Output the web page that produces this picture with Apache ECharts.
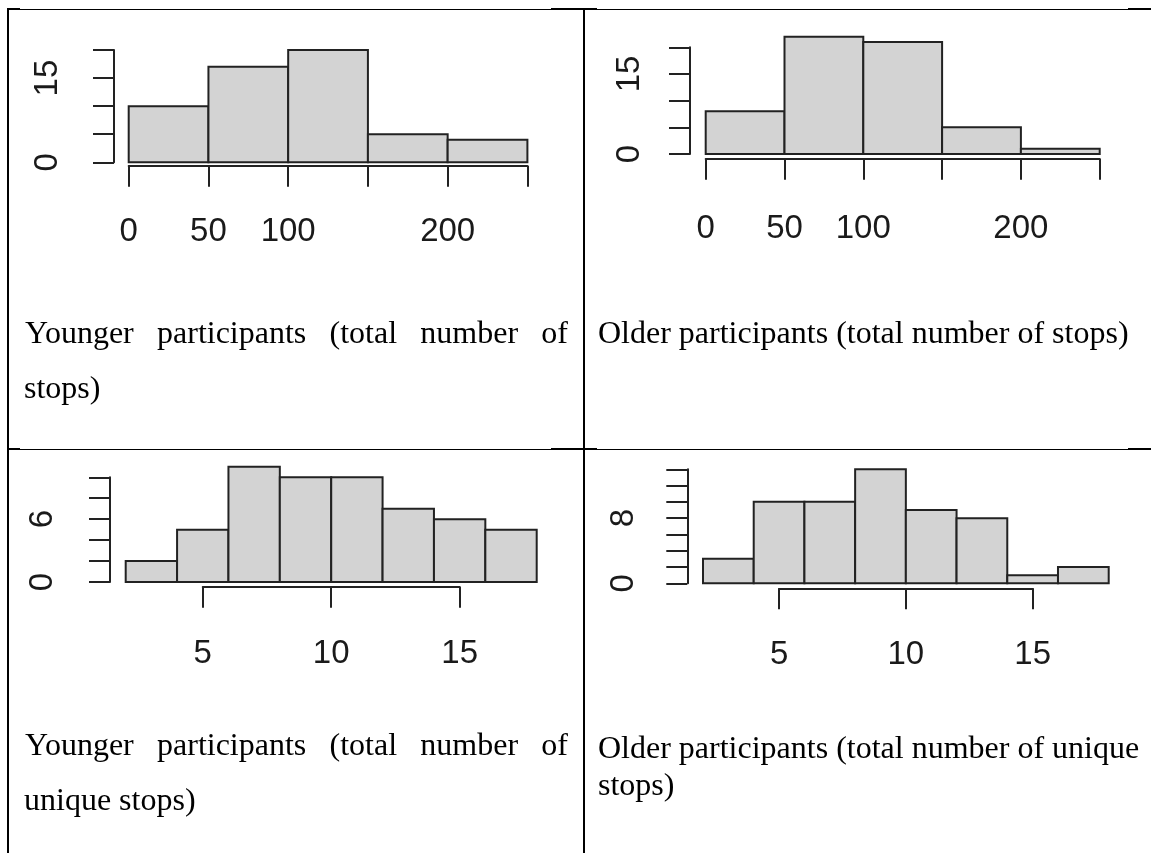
<!DOCTYPE html>
<html><head><meta charset="utf-8">
<script src="https://cdn.jsdelivr.net/npm/echarts@6/dist/echarts.min.js"></script>
<style>
html,body{margin:0;padding:0;background:#fff;}
#wrap{position:relative;width:1151px;height:853px;overflow:hidden;background:#fff;}
#chart{position:absolute;left:0;top:0;width:1151px;height:853px;}
.ln{position:absolute;background:#000;}
.cap{position:absolute;font-family:"Liberation Serif","Times New Roman",serif;font-size:32px;line-height:40px;color:#000;white-space:nowrap;}
.just{text-align:justify;text-align-last:justify;white-space:normal;}
</style></head><body>
<div id="wrap"><div id="chart"></div></div>
<script>
// ---------------- data ----------------
const totalBinEdges = [0, 50, 100, 150, 200, 250];
const youngerTotalCounts = [10, 17, 20, 5, 4];
const olderTotalCounts = [8, 22, 21, 5, 1];
const uniqueBinEdges = [2, 4, 6, 8, 10, 12, 14, 16, 18];
const youngerUniqueCounts = [2, 5, 11, 10, 10, 7, 6, 5];
const olderUniqueCounts = [3, 10, 10, 14, 9, 8, 1, 2];

const totalXTicks = [0, 50, 100, 150, 200, 250];
const totalXLabels = [0, 50, 100, 200];
const uniqueXTicks = [5, 10, 15];
const uniqueXLabels = [5, 10, 15];
const totalYTicks = [0, 5, 10, 15, 20];
const totalYLabels = [0, 15];
const youngerUniqueYTicks = [0, 2, 4, 6, 8, 10];
const youngerUniqueYLabels = [0, 6];
const olderUniqueYTicks = [0, 2, 4, 6, 8, 10, 12, 14];
const olderUniqueYLabels = [0, 8];

const captionYoungerTotal = ["Younger participants (total number of", "stops)"];
const captionOlderTotal = ["Older participants (total number of stops)"];
const captionYoungerUnique = ["Younger participants (total number of", "unique stops)"];
const captionOlderUnique = ["Older participants (total number of unique", "stops)"];

// ---------------- layout ----------------
const panels = [
  {edges: totalBinEdges, counts: youngerTotalCounts, xTicks: totalXTicks, xLabels: totalXLabels,
   yTicks: totalYTicks, yLabels: totalYLabels,
   box: {left: 128.7, top: 50, width: 398.7, height: 112.3}, xOff: 3.5, yOff: 14.7, xMargin: 50, yMargin: 50},
  {edges: totalBinEdges, counts: olderTotalCounts, xTicks: totalXTicks, xLabels: totalXLabels,
   yTicks: totalYTicks, yLabels: totalYLabels,
   box: {left: 705.7, top: 47.3, width: 394, height: 106.7}, xOff: 4.7, yOff: 15.7, xMargin: 54, yMargin: 44},
  {edges: uniqueBinEdges, counts: youngerUniqueCounts, xTicks: uniqueXTicks, xLabels: uniqueXLabels,
   yTicks: youngerUniqueYTicks, yLabels: youngerUniqueYLabels,
   box: {left: 125.7, top: 477.3, width: 411, height: 104.7}, xOff: 4.7, yOff: 15.7, xMargin: 51, yMargin: 51},
  {edges: uniqueBinEdges, counts: olderUniqueCounts, xTicks: uniqueXTicks, xLabels: uniqueXLabels,
   yTicks: olderUniqueYTicks, yLabels: olderUniqueYLabels,
   box: {left: 703, top: 469.3, width: 405.7, height: 114}, xOff: 5, yOff: 15.7, xMargin: 50, yMargin: 47}
];

const INK = '#222';
const LABEL_FONT = {fontFamily: '"Liberation Sans", Arial, sans-serif', fontSize: 33, color: '#1a1a1a'};

const grids = [], xAxes = [], yAxes = [], series = [];

function axisStyle(show) {
  return {
    axisLine: {show: show, onZero: false, lineStyle: {color: INK, width: 2}},
    axisTick: {show: show, length: 21, inside: false, lineStyle: {color: INK, width: 2}},
    splitLine: {show: false}
  };
}

panels.forEach(function (p) {
  const b = p.box;
  const eMin = p.edges[0], eMax = p.edges[p.edges.length - 1];
  const tMin = p.xTicks[0], tMax = p.xTicks[p.xTicks.length - 1];
  grids.push({left: b.left, top: b.top, width: b.width, height: b.height, containLabel: false, outerBoundsMode: 'none'});
  const g = grids.length - 1;
  const sameRange = (tMin === eMin && tMax === eMax);
  const xLabelCfg = Object.assign({show: true, margin: p.xMargin,
    formatter: function (v) { return p.xLabels.indexOf(v) >= 0 ? String(v) : ''; }}, LABEL_FONT);
  if (sameRange) {
    xAxes.push(Object.assign({type: 'value', gridIndex: g, position: 'bottom', offset: p.xOff,
      min: tMin, max: tMax, interval: p.xTicks[1] - p.xTicks[0], axisLabel: xLabelCfg}, axisStyle(true)));
  } else {
    xAxes.push({type: 'value', gridIndex: g, show: false, min: eMin, max: eMax});
  }
  const xBars = xAxes.length - 1;
  yAxes.push(Object.assign({type: 'value', gridIndex: g, position: 'left', offset: p.yOff,
    min: p.yTicks[0], max: p.yTicks[p.yTicks.length - 1], interval: p.yTicks[1] - p.yTicks[0],
    axisLabel: Object.assign({show: true, rotate: 90, margin: p.yMargin,
      formatter: function (v) { return p.yLabels.indexOf(v) >= 0 ? String(v) : ''; }}, LABEL_FONT)},
    axisStyle(true)));
  const yBars = yAxes.length - 1;

  if (!sameRange) {
    const scale = b.width / (eMax - eMin);
    grids.push({left: b.left + (tMin - eMin) * scale, top: b.top, width: (tMax - tMin) * scale,
      height: b.height, containLabel: false, outerBoundsMode: 'none'});
    const ga = grids.length - 1;
    xAxes.push(Object.assign({type: 'value', gridIndex: ga, position: 'bottom', offset: p.xOff,
      min: tMin, max: tMax, interval: p.xTicks[1] - p.xTicks[0], axisLabel: xLabelCfg}, axisStyle(true)));
    yAxes.push({type: 'value', gridIndex: ga, show: false, min: 0, max: 1});
  }

  series.push({
    type: 'custom', xAxisIndex: xBars, yAxisIndex: yBars, clip: false, silent: true,
    data: p.counts.map(function (c, i) { return [p.edges[i], p.edges[i + 1], c]; }),
    encode: {x: [0, 1], y: [2]},
    renderItem: function (params, api) {
      const p0 = api.coord([api.value(0), api.value(2)]);
      const p1 = api.coord([api.value(1), 0]);
      return {type: 'rect', shape: {x: p0[0], y: p0[1], width: p1[0] - p0[0], height: p1[1] - p0[1]},
        style: {fill: '#d3d3d3', stroke: INK, lineWidth: 2}};
    }
  });
});

const chart = echarts.init(document.getElementById('chart'), null, {renderer: 'canvas'});
chart.setOption({animation: false, backgroundColor: '#fff', grid: grids, xAxis: xAxes, yAxis: yAxes, series: series});

// ---------------- table borders & captions ----------------
const wrap = document.getElementById('wrap');
function line(l, t, w, h) {
  const d = document.createElement('div'); d.className = 'ln';
  d.style.left = l + 'px'; d.style.top = t + 'px'; d.style.width = w + 'px'; d.style.height = h + 'px';
  wrap.appendChild(d);
}
[9, 449].forEach(function (y) {
  line(7, y, 1144, 1);
  line(7, y - 1, 13, 2);
  line(551, y - 1, 46, 2);
  line(1128, y - 1, 23, 2);
});
line(7, 8, 2, 845);
line(583, 8, 2, 845);

function caption(text, left, top, justifyWidth) {
  const d = document.createElement('div');
  d.className = 'cap' + (justifyWidth ? ' just' : '');
  d.style.left = left + 'px'; d.style.top = top + 'px';
  if (justifyWidth) d.style.width = justifyWidth + 'px';
  d.textContent = text;
  wrap.appendChild(d);
}
caption(captionYoungerTotal[0], 25, 312, 543);
caption(captionYoungerTotal[1], 24, 367);
caption(captionOlderTotal[0], 598, 312);
caption(captionYoungerUnique[0], 25, 723.5, 543);
caption(captionYoungerUnique[1], 24, 778.5);
caption(captionOlderUnique[0], 598, 727);
caption(captionOlderUnique[1], 598, 764);
</script>
</body></html>
